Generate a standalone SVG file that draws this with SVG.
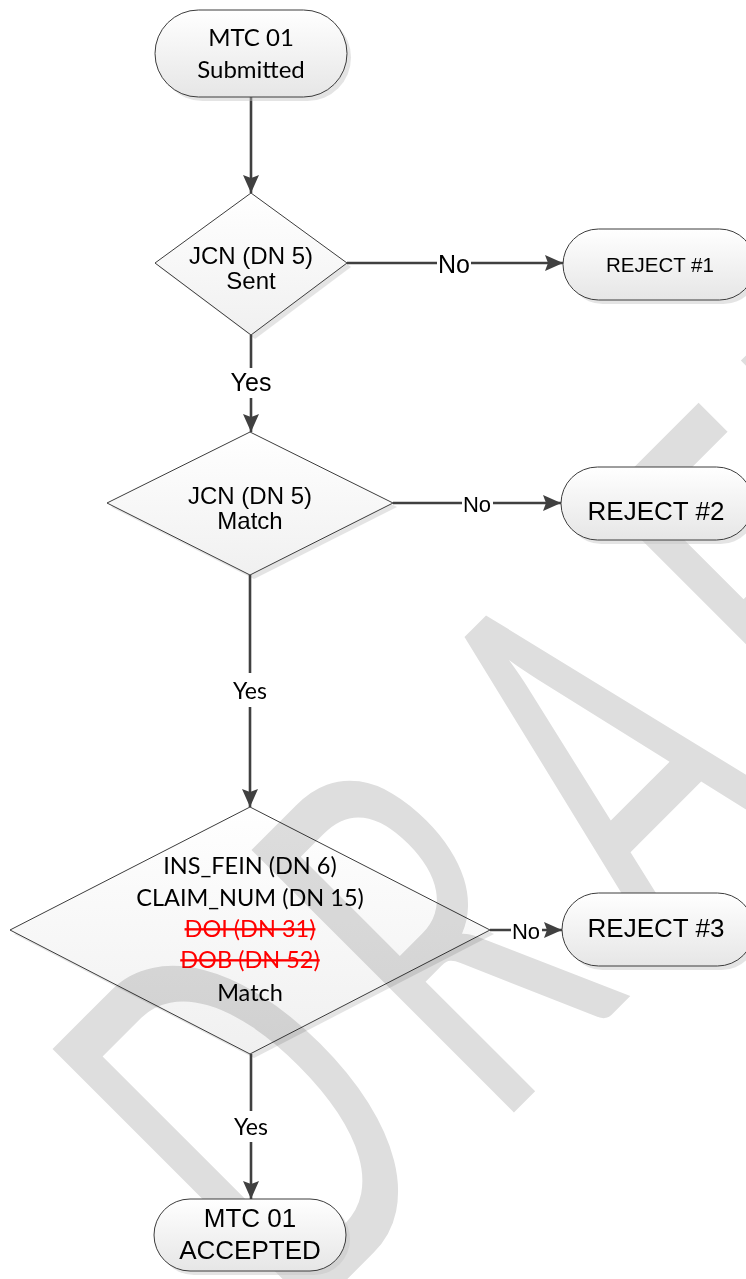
<svg xmlns="http://www.w3.org/2000/svg" width="746" height="1279" viewBox="0 0 746 1279">
<style>
.term{stroke:#3c3c3c;stroke-width:1;fill:url(#tg)}
.dia{stroke:#3c3c3c;stroke-width:1;fill:url(#dg)}
.shd{fill:#c4c4c4;opacity:.45}
.conn{stroke:#404040;stroke-width:2.6;fill:none}
.ar{font-family:"Liberation Sans",Arial,sans-serif;fill:#000;text-anchor:middle}
.ca{font-family:Lato,"Open Sans",sans-serif;fill:#000;text-anchor:middle}
.red{fill:#ff0000;text-decoration:line-through}
.lbg{fill:#ffffff}
</style>
<defs>
<linearGradient id="tg" x1="0" y1="0" x2="0" y2="1"><stop offset="0" stop-color="#ffffff"/><stop offset="1" stop-color="#e6e6e6"/></linearGradient>
<linearGradient id="dg" x1="0" y1="0" x2="0" y2="1"><stop offset="0" stop-color="#ffffff"/><stop offset="1" stop-color="#f0f0f0"/></linearGradient>
<marker id="arr" markerUnits="userSpaceOnUse" markerWidth="19" markerHeight="16" refX="18" refY="8" orient="auto"><path d="M0,0 L18,8 L0,16 L3,8 z" fill="#404040"/></marker>
</defs>
<rect width="746" height="1279" fill="#ffffff"/>

<g id="dia1">
<polygon class="shd" points="255,197 351,267 255,339 159,267"/>
<polygon class="dia" points="251,193 347,263 251,335 155,263"/>
<text class="ar" font-size="24" x="251" y="264">JCN (DN 5)</text>
<text class="ar" font-size="24" x="251" y="289">Sent</text>
</g>
<g id="dia2">
<polygon class="shd" points="254,436 397,507 254,579 111,507"/>
<polygon class="dia" points="250,432 393,503 250,575 107,503"/>
<text class="ar" font-size="24" x="250" y="504">JCN (DN 5)</text>
<text class="ar" font-size="24" x="250" y="529">Match</text>
</g>
<g id="dia3">
<polygon class="shd" points="254,811 494,934 254,1058 14,934"/>
<polygon class="dia" points="250,807 490,930 250,1054 10,930"/>
<text class="ca" font-size="23.5" x="250" y="874">INS_FEIN (DN 6)</text>
<text class="ca" font-size="23.5" x="250" y="906">CLAIM_NUM (DN 15)</text>
<text class="ca red" font-size="23.5" x="250" y="937">DOI (DN 31)</text>
<text class="ca red" font-size="23.5" x="250" y="968">DOB (DN 52)</text>
<text class="ca" font-size="23.5" x="250" y="1001">Match</text>
</g>

<g id="watermark" style="mix-blend-mode:multiply">
<text transform="rotate(-45) translate(-733 1150) scale(0.6 1)" font-family="Lato,'Open Sans',sans-serif" font-weight="400" font-size="518" letter-spacing="75" fill="#dedede">DRAFT</text>
</g>

<g id="connectors">
<line class="conn" x1="251" y1="97" x2="251" y2="193" marker-end="url(#arr)"/>
<line class="conn" x1="347" y1="263" x2="563" y2="263" marker-end="url(#arr)"/>
<rect class="lbg" x="437" y="252" width="34" height="24"/>
<text class="ar" font-size="25" x="454" y="273">No</text>
<line class="conn" x1="251" y1="335" x2="251" y2="432" marker-end="url(#arr)"/>
<rect class="lbg" x="226" y="368" width="50" height="30"/>
<text class="ar" font-size="25" x="251" y="391">Yes</text>
<line class="conn" x1="393" y1="503" x2="561" y2="503" marker-end="url(#arr)"/>
<rect class="lbg" x="462" y="493" width="31" height="22"/>
<text class="ar" font-size="22" x="477" y="512">No</text>
<line class="conn" x1="250" y1="575" x2="250" y2="807" marker-end="url(#arr)"/>
<rect class="lbg" x="228" y="673" width="44" height="34"/>
<text class="ca" font-size="23" x="250" y="699">Yes</text>
<line class="conn" x1="490" y1="930" x2="562" y2="930" marker-end="url(#arr)"/>
<rect class="lbg" x="511" y="920" width="31" height="26"/>
<text class="ar" font-size="22" x="526" y="939">No</text>
<line class="conn" x1="251" y1="1054" x2="251" y2="1199" marker-end="url(#arr)"/>
<rect class="lbg" x="228" y="1111" width="46" height="31"/>
<text class="ca" font-size="23" x="251" y="1135">Yes</text>
</g>

<g id="term1">
<rect class="shd" x="159" y="14" width="192" height="87" rx="43.5"/>
<rect class="term" x="155" y="10" width="192" height="87" rx="43.5"/>
<text class="ca" font-size="24" x="251" y="46">MTC 01</text>
<text class="ca" font-size="24" x="251" y="78">Submitted</text>
</g>
<g id="rej1">
<rect class="shd" x="567" y="233" width="192" height="71" rx="35.5"/>
<rect class="term" x="563" y="229" width="192" height="71" rx="35.5"/>
<text class="ar" font-size="20.5" x="660" y="272">REJECT #1</text>
</g>
<g id="rej2">
<rect class="shd" x="565" y="471" width="192" height="73" rx="36.5"/>
<rect class="term" x="561" y="467" width="192" height="73" rx="36.5"/>
<text class="ar" font-size="26" x="656" y="520">REJECT #2</text>
</g>
<g id="rej3">
<rect class="shd" x="566" y="897" width="192" height="73" rx="36.5"/>
<rect class="term" x="562" y="893" width="192" height="73" rx="36.5"/>
<text class="ar" font-size="26" x="656" y="937">REJECT #3</text>
</g>
<g id="term2">
<rect class="shd" x="158" y="1203" width="192" height="72" rx="36"/>
<rect class="term" x="154" y="1199" width="192" height="72" rx="36"/>
<text class="ar" font-size="26" x="250" y="1227">MTC 01</text>
<text class="ar" font-size="26" x="250" y="1259">ACCEPTED</text>
</g>
</svg>
